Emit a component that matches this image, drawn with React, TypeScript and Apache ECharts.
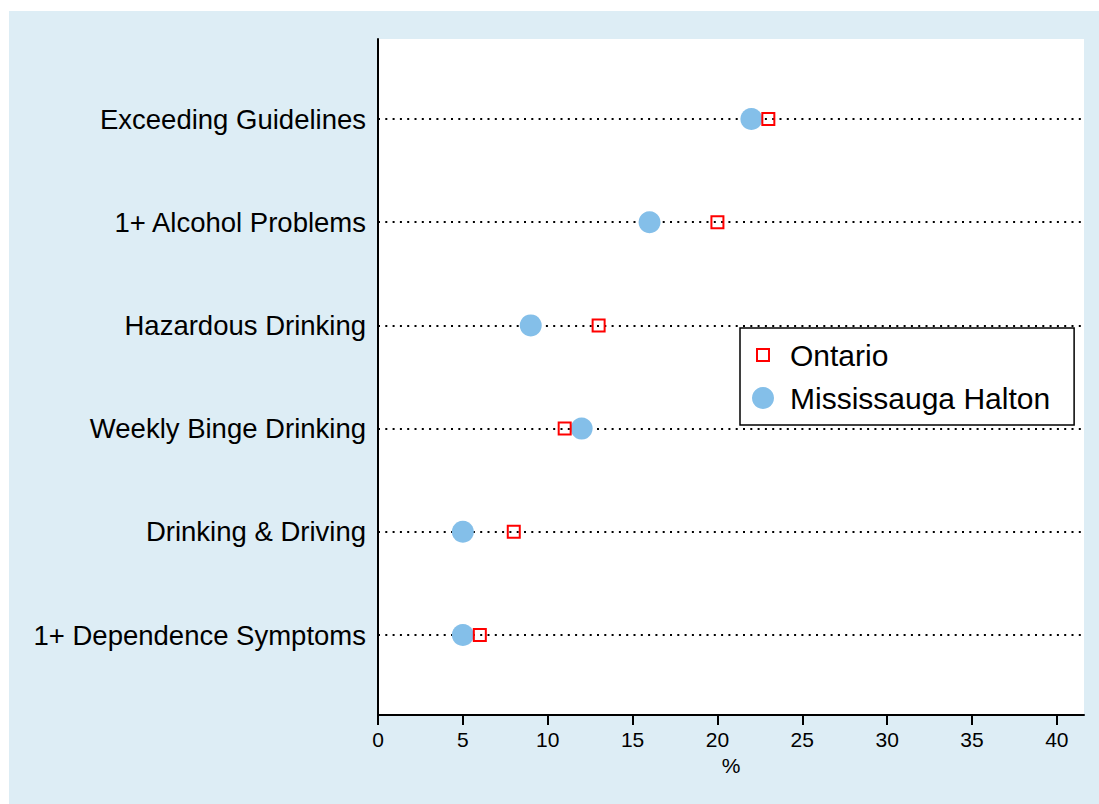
import React, { useEffect, useRef } from "react";
import * as echarts from "echarts";

const categories = [
  "Exceeding Guidelines",
  "1+ Alcohol Problems",
  "Hazardous Drinking",
  "Weekly Binge Drinking",
  "Drinking & Driving",
  "1+ Dependence Symptoms",
];
const ontario = [23, 20, 13, 11, 8, 6];
const mississaugaHalton = [22, 16, 9, 12, 5, 5];
const xTicks = [0, 5, 10, 15, 20, 25, 30, 35, 40];
const xMin = 0;
const xMax = 41.6;
const xTitle = "%";

const FONT = '"Liberation Sans", Arial, Helvetica, sans-serif';

export default function App() {
  const ref = useRef<HTMLDivElement>(null);
  useEffect(() => {
    const chart = echarts.init(ref.current!, null, { renderer: "svg" });
    chart.setOption({
      animation: false,
      backgroundColor: "#ddedf5",
      textStyle: { fontFamily: FONT, color: "#000" },
      grid: [
        { left: 369, right: 15, top: 28, bottom: 89, show: true, backgroundColor: "#ffffff", borderWidth: 0 },
        { left: 369, right: 15, top: 108, bottom: 169 },
      ],
      xAxis: [
        {
          gridIndex: 0,
          type: "value",
          min: xMin,
          max: xMax,
          axisLine: { show: true, onZero: false, lineStyle: { color: "#000", width: 2 } },
          axisTick: { show: true, length: 10, customValues: xTicks, lineStyle: { color: "#000", width: 2 } },
          axisLabel: { customValues: xTicks, fontSize: 21, color: "#000", margin: 14, fontFamily: FONT },
          splitLine: { show: false },
          name: xTitle,
          nameLocation: "middle",
          nameGap: 36,
          nameTextStyle: { fontSize: 21, color: "#000", fontFamily: FONT },
        },
        { gridIndex: 1, type: "value", min: xMin, max: xMax, show: false },
      ],
      yAxis: [
        {
          gridIndex: 0,
          type: "value",
          min: 0,
          max: 1,
          axisLine: { show: true, onZero: false, lineStyle: { color: "#000", width: 2 } },
          axisTick: { show: false },
          axisLabel: { show: false },
          splitLine: { show: false },
        },
        {
          gridIndex: 1,
          type: "category",
          data: categories,
          inverse: true,
          boundaryGap: false,
          axisLine: { show: false },
          axisTick: { show: false },
          axisLabel: { fontSize: 27.5, color: "#000", margin: 12, fontFamily: FONT, interval: 0 },
          splitLine: { show: true, interval: 0, lineStyle: { color: "#000", type: [2, 5.3], width: 2 } },
        },
      ],
      legend: {
        data: [
          { name: "Ontario", icon: "path://M0,0 M44,22 M16,5 L28,5 L28,17 L16,17 Z" },
          { name: "Mississauga Halton", icon: "circle" },
        ],
        orient: "vertical",
        left: 731,
        top: 317,
        itemWidth: 44,
        itemHeight: 22,
        itemGap: 13,
        padding: [12, 24, 12, 0],
        backgroundColor: "#ffffff",
        borderColor: "#000",
        borderWidth: 1.5,
        borderRadius: 0,
        textStyle: { fontSize: 30, color: "#000", fontFamily: FONT },
      },
      series: [
        {
          name: "Mississauga Halton",
          type: "scatter",
          xAxisIndex: 1,
          yAxisIndex: 1,
          data: mississaugaHalton.map((v, i) => [v, categories[i]]),
          symbol: "circle",
          symbolSize: 22,
          itemStyle: { color: "#84bfe9", opacity: 1 },
          z: 3,
        },
        {
          name: "Ontario",
          type: "scatter",
          xAxisIndex: 1,
          yAxisIndex: 1,
          data: ontario.map((v, i) => [v, categories[i]]),
          symbol: "rect",
          symbolSize: 12,
          itemStyle: { color: "rgba(0,0,0,0)", borderColor: "#ff0000", borderWidth: 2, opacity: 1 },
          z: 4,
        },
      ],
    });
    return () => chart.dispose();
  }, []);
  return (
    <div
      ref={ref}
      style={{ position: "absolute", left: 9, top: 11, width: 1090, height: 793 }}
    />
  );
}
